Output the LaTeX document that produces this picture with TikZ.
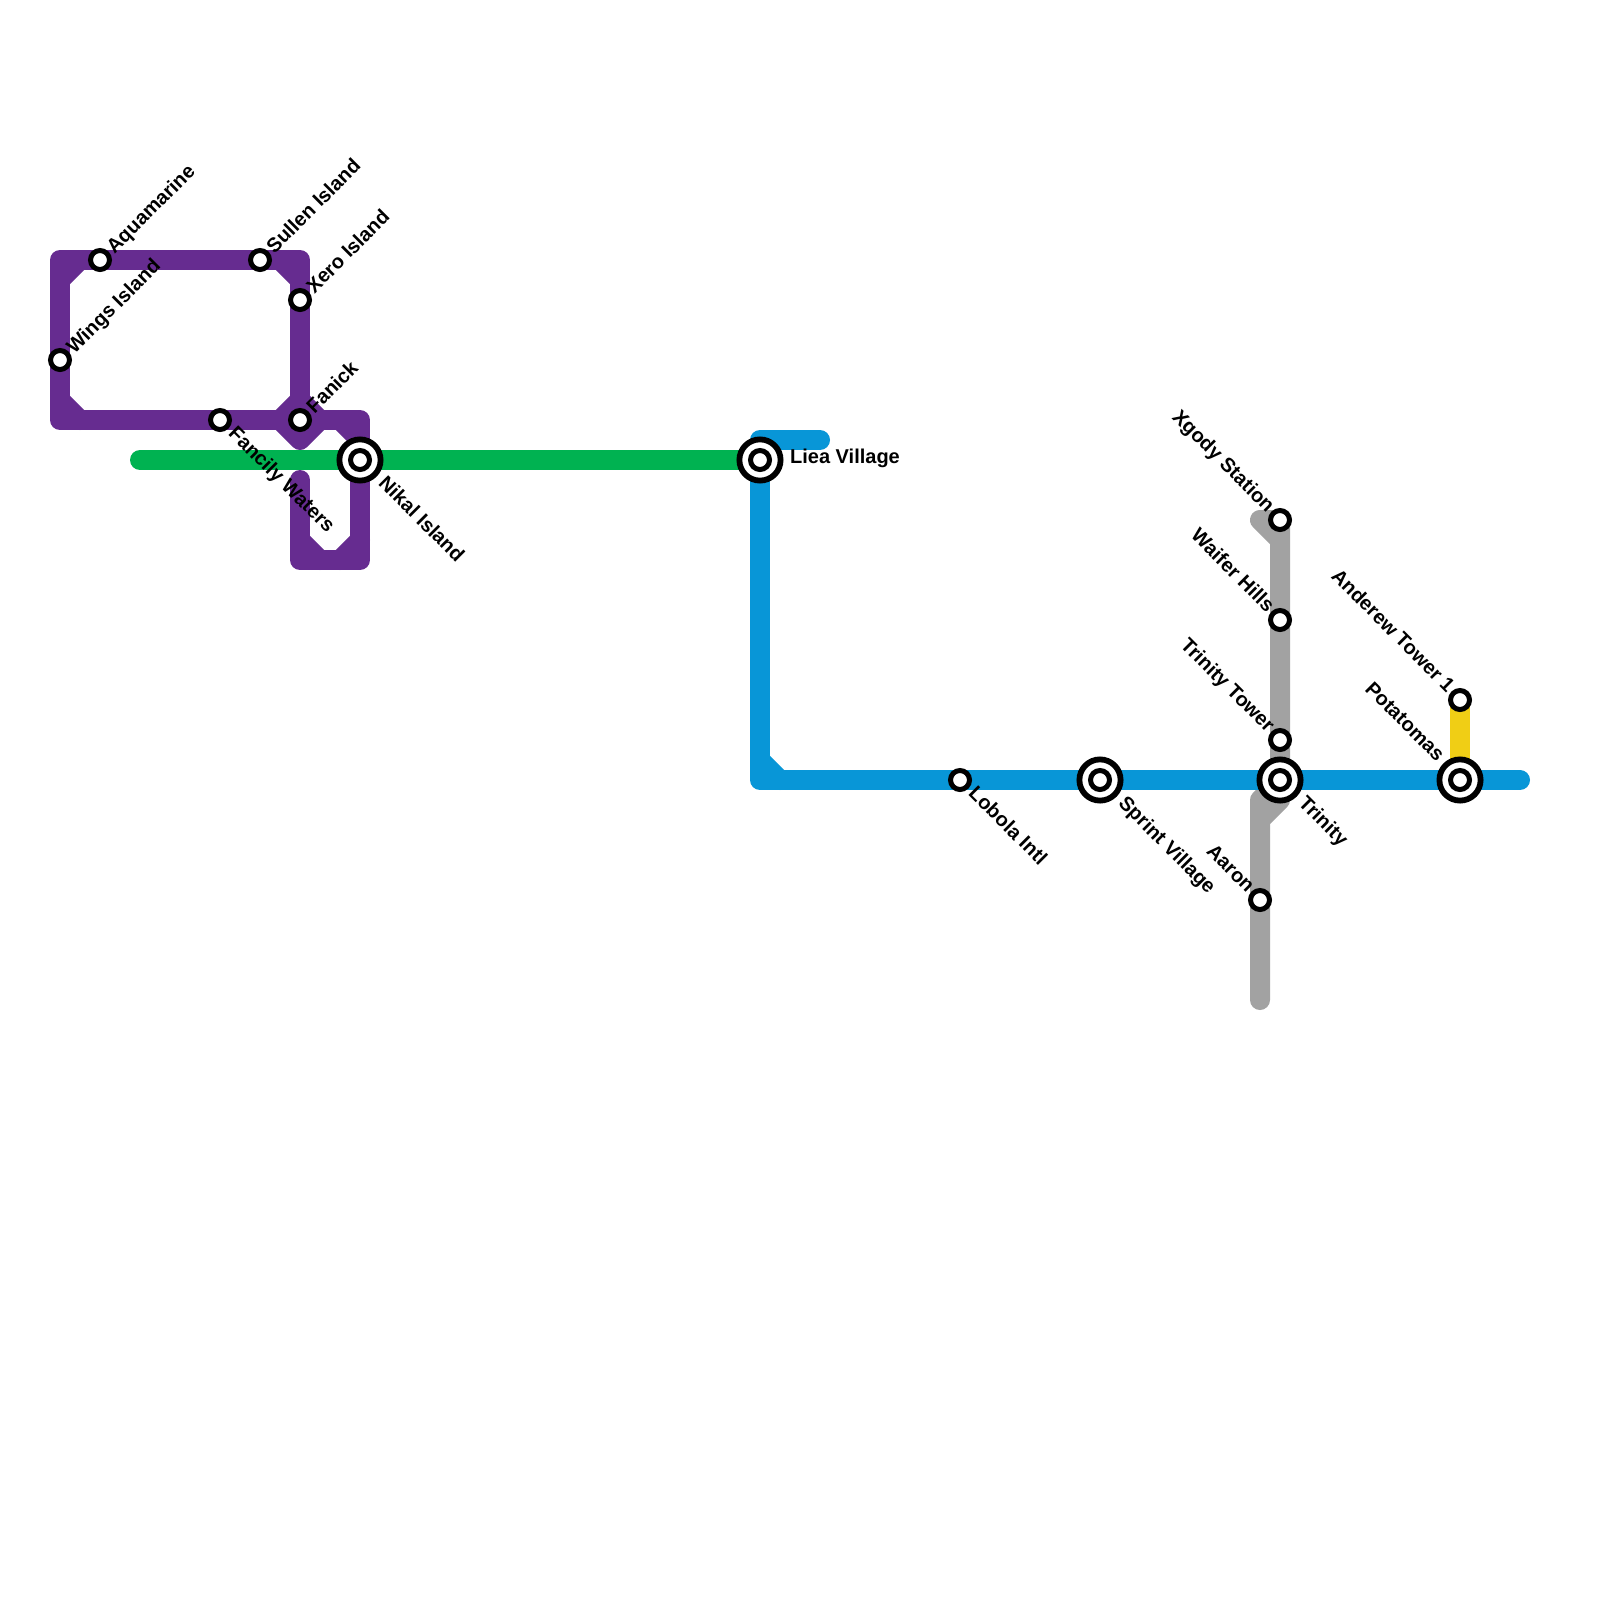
\documentclass[tikz,border=0pt]{standalone}
\usepackage{fontspec}
\setmainfont{Liberation Sans}
\pgfdeclarelayer{lines}
\pgfsetlayers{lines,main}
\definecolor{purpleline}{HTML}{662C90}
\definecolor{greenline}{HTML}{00B251}
\definecolor{blueline}{HTML}{0896D7}
\definecolor{grayline}{HTML}{A2A2A2}
\definecolor{yellowline}{HTML}{F0CE15}
\tikzset{
  metro/.style={line width=1cm, line join=round, line cap=round},
  stop/.style={draw=black, fill=white, circle, line width=0.25cm, minimum size=0.95cm, inner sep=0pt},
  hub/.style={draw=black, fill=white, circle, line width=0.29cm, minimum size=2.06cm, inner sep=0pt},
  lbl/.style={font=\fontsize{28.45}{34}\selectfont\bfseries, inner sep=0pt, text height=0.97em, text depth=0pt},
  ne/.style={lbl, rotate=45, anchor=west},
  se/.style={lbl, rotate=-45, anchor=west},
  nw/.style={lbl, rotate=-45, anchor=east}
}
\begin{document}
\begin{tikzpicture}[x=1cm, y=-1cm]
\useasboundingbox (0,0) rectangle (80,80);

% Interchange rings
\foreach \n/\x/\y in {nikal/18/23, liea/38/23, sprint/55/39, trinity/64/39, potatomas/73/39} {
  \node[hub] (hub\n) at (\x, \y) {};
}

% Stations
\foreach \n/\x/\y in {wings/3/18, aquamarine/5/13, sullen/13/13, xero/15/15, fanick/15/21, fancily/11/21,
    nikal/18/23, liea/38/23, lobola/48/39, sprint/55/39, trinity/64/39, potatomas/73/39,
    xgody/64/26, waifer/64/31, tower/64/37, anderew/73/35, aaron/63/45} {
  \node[stop] (\n) at (\x, \y) {};
}

% Labels up and to the right
\foreach \n/\t in {wings/Wings Island, aquamarine/Aquamarine, sullen/Sullen Island, xero/Xero Island, fanick/Fanick} {
  \node[ne] (lbl\n) at ([shift={(0.6,-0.4)}]\n.center) {\t};
}
% Labels down and to the right
\foreach \n/\t in {fancily/Fancily Waters, lobola/Lobola Intl} {
  \node[se] (lbl\n) at ([shift={(0.5,0.6)}]\n.center) {\t};
}
\foreach \n/\t in {nikal/Nikal Island, sprint/Sprint Village, trinity/Trinity} {
  \node[se] (lbl\n) at ([shift={(1,1.1)}]\n.center) {\t};
}
% Labels up and to the left
\foreach \n/\t in {xgody/Xgody Station, waifer/Waifer Hills, tower/Trinity Tower, anderew/Anderew Tower 1, aaron/Aaron} {
  \node[nw] (lbl\n) at ([shift={(-0.55,-0.45)}]\n.center) {\t};
}
\node[nw] (lblpotatomas) at ([shift={(-1.05,-1)}]potatomas.center) {Potatomas};
\node[lbl, anchor=west] (lblliea) at (39.5,23) {Liea Village};

\begin{pgfonlayer}{lines}
\fill[white] (0,0) rectangle (80,80);
% Purple line
\draw[metro, purpleline] (aquamarine.center) -- (3,13) -- (wings.center) -- (3,21) -- (fancily.center) -- (fanick.center)
  -- (15,20) -- (xero.center) -- (15,13) -- (sullen.center) -- (aquamarine.center);
\draw[metro, purpleline] (3,14) -- (4,13) (14,13) -- (15,14) (3,20) -- (4,21) (14,21) -- (15,20) -- (16,21) -- (15,22) -- (14,21);
\draw[metro, purpleline] (16,21) -- (18,21) -- (18,28) -- (15,28) -- (15,24);
\draw[metro, purpleline] (17,21) -- (18,22) (18,27) -- (17,28) (16,28) -- (15,27);
% Gray line
\draw[metro, grayline] (xgody.center) -- (63,26) -- (64,27) -- (xgody.center) -- (64,40) -- (63,41) -- (63,50);
\draw[metro, grayline] (64,39) -- (63,40) -- (63,41);
% Yellow line
\draw[metro, yellowline] (anderew.center) -- (potatomas.center);
% Green line
\draw[metro, greenline] (7,23) -- (liea.center);
% Blue line
\draw[metro, blueline] (41,22) -- (38,22) -- (38,39) -- (76,39);
\draw[metro, blueline] (38,38) -- (39,39);
\end{pgfonlayer}
\end{tikzpicture}
\end{document}
